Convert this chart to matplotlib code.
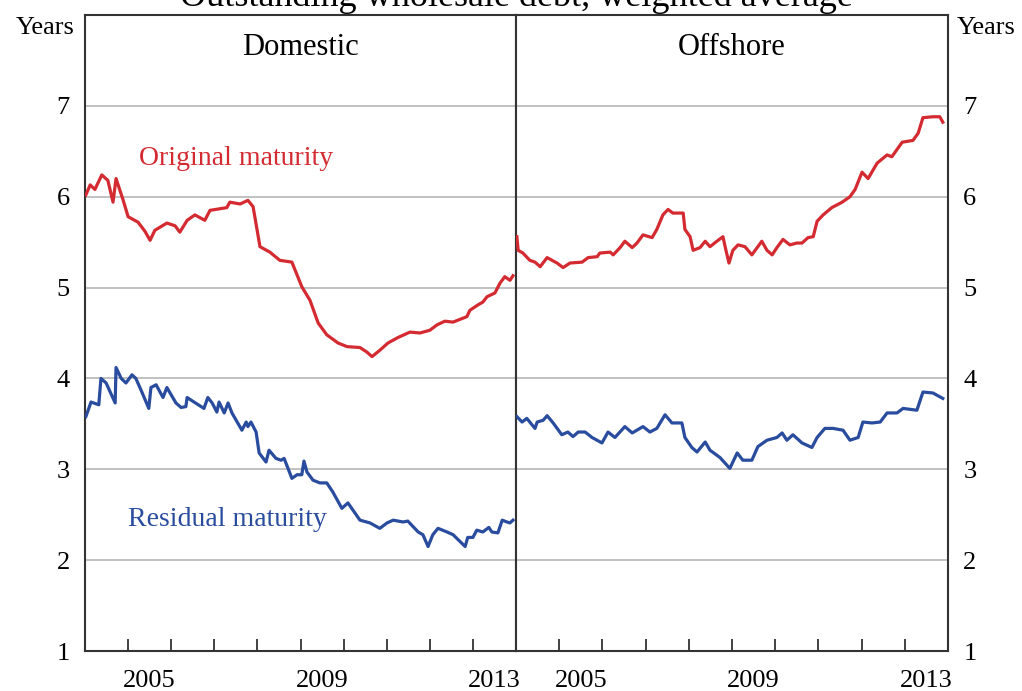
import matplotlib
matplotlib.use("Agg")
import matplotlib.pyplot as plt

plt.rcParams['font.family'] = ['Liberation Serif', 'DejaVu Serif']

RED = '#d42a31'
BLUE = '#2a4c9e'
GRID = '#bcbcbc'

# domestic, original maturity (decimal year, years)
dom_orig_t = [2004.02, 2004.12, 2004.23, 2004.39, 2004.53, 2004.65, 2004.72, 2004.88, 2005.0, 2005.23,
              2005.39, 2005.51, 2005.62, 2005.9, 2006.09, 2006.2, 2006.37, 2006.55, 2006.78, 2006.9,
              2007.29, 2007.36, 2007.6, 2007.78, 2007.9, 2008.06, 2008.29, 2008.52, 2008.8, 2009.03,
              2009.22, 2009.41, 2009.61, 2009.87, 2010.08, 2010.38, 2010.54, 2010.66, 2010.84, 2011.03,
              2011.26, 2011.54, 2011.77, 2012.0, 2012.17, 2012.35, 2012.54, 2012.86, 2012.93, 2013.12,
              2013.23, 2013.33, 2013.51, 2013.63, 2013.74, 2013.86, 2013.93]
dom_orig_v = [6.02, 6.13, 6.08, 6.24, 6.18, 5.94, 6.2, 5.97, 5.78, 5.72,
              5.62, 5.52, 5.63, 5.71, 5.68, 5.61, 5.74, 5.8, 5.74, 5.85,
              5.88, 5.94, 5.92, 5.96, 5.89, 5.45, 5.39, 5.3, 5.28, 5.01,
              4.86, 4.61, 4.48, 4.39, 4.35, 4.34, 4.29, 4.24, 4.31, 4.39,
              4.45, 4.51, 4.5, 4.53, 4.59, 4.63, 4.62, 4.68, 4.75, 4.81,
              4.84, 4.9, 4.94, 5.05, 5.12, 5.08, 5.13]

# domestic, residual maturity
dom_res_t = [2004.02, 2004.14, 2004.32, 2004.37, 2004.49, 2004.7, 2004.72, 2004.84, 2004.95, 2005.09,
             2005.18, 2005.32, 2005.48, 2005.53, 2005.65, 2005.81, 2005.9, 2006.11, 2006.23, 2006.34,
             2006.37, 2006.53, 2006.76, 2006.85, 2006.95, 2007.06, 2007.11, 2007.23, 2007.32, 2007.41,
             2007.64, 2007.74, 2007.78, 2007.85, 2007.97, 2008.04, 2008.2, 2008.27, 2008.43, 2008.55,
             2008.62, 2008.8, 2008.92, 2009.03, 2009.08, 2009.15, 2009.29, 2009.45, 2009.61, 2009.75,
             2009.96, 2010.1, 2010.38, 2010.61, 2010.84, 2011.01, 2011.15, 2011.38, 2011.49, 2011.73,
             2011.84, 2011.96, 2012.07, 2012.19, 2012.4, 2012.54, 2012.82, 2012.88, 2013.0, 2013.09,
             2013.23, 2013.37, 2013.44, 2013.58, 2013.68, 2013.79, 2013.86, 2013.93]
dom_res_v = [3.58, 3.74, 3.71, 4.0, 3.95, 3.73, 4.12, 4.0, 3.95, 4.04,
             4.0, 3.85, 3.67, 3.9, 3.93, 3.79, 3.9, 3.73, 3.68, 3.69,
             3.79, 3.74, 3.67, 3.79, 3.73, 3.63, 3.74, 3.62, 3.73, 3.62,
             3.43, 3.52, 3.47, 3.52, 3.41, 3.18, 3.08, 3.21, 3.12, 3.1,
             3.12, 2.9, 2.94, 2.94, 3.09, 2.97, 2.88, 2.85, 2.85, 2.75,
             2.57, 2.63, 2.44, 2.41, 2.35, 2.41, 2.44, 2.42, 2.43, 2.31,
             2.28, 2.15, 2.28, 2.35, 2.31, 2.28, 2.15, 2.25, 2.25, 2.33,
             2.31, 2.36, 2.31, 2.3, 2.44, 2.42, 2.41, 2.44]

# offshore, original maturity
off_orig_t = [2004.02, 2004.05, 2004.16, 2004.32, 2004.44, 2004.56, 2004.72, 2004.95, 2005.09, 2005.25,
              2005.53, 2005.67, 2005.88, 2005.94, 2006.18, 2006.25, 2006.41, 2006.52, 2006.69, 2006.8,
              2006.94, 2007.15, 2007.26, 2007.4, 2007.52, 2007.63, 2007.87, 2007.91, 2008.03, 2008.1,
              2008.26, 2008.38, 2008.49, 2008.65, 2008.79, 2008.86, 2008.93, 2009.02, 2009.14, 2009.3,
              2009.46, 2009.69, 2009.81, 2009.93, 2010.04, 2010.18, 2010.34, 2010.5, 2010.62, 2010.76,
              2010.88, 2010.97, 2011.11, 2011.31, 2011.55, 2011.73, 2011.85, 2012.01, 2012.15, 2012.36,
              2012.59, 2012.7, 2012.94, 2013.19, 2013.31, 2013.42, 2013.65, 2013.81, 2013.88]
off_orig_v = [5.56, 5.41, 5.38, 5.3, 5.28, 5.23, 5.33, 5.27, 5.22, 5.27,
              5.28, 5.33, 5.34, 5.38, 5.39, 5.36, 5.44, 5.51, 5.44, 5.49,
              5.58, 5.55, 5.64, 5.8, 5.86, 5.82, 5.82, 5.64, 5.56, 5.41,
              5.44, 5.51, 5.45, 5.51, 5.56, 5.41, 5.27, 5.41, 5.47, 5.45,
              5.36, 5.51, 5.41, 5.36, 5.44, 5.53, 5.47, 5.49, 5.49, 5.55,
              5.56, 5.73, 5.8, 5.88, 5.94, 6.0, 6.08, 6.27, 6.2, 6.37,
              6.46, 6.44, 6.6, 6.62, 6.7, 6.87, 6.88, 6.88, 6.82]

# offshore, residual maturity
off_res_t = [2004.02, 2004.14, 2004.25, 2004.44, 2004.49, 2004.63, 2004.72, 2004.86, 2005.06, 2005.2,
             2005.32, 2005.44, 2005.6, 2005.76, 2005.99, 2006.13, 2006.29, 2006.52, 2006.69, 2006.94,
             2007.1, 2007.26, 2007.45, 2007.61, 2007.84, 2007.91, 2008.07, 2008.19, 2008.38, 2008.49,
             2008.72, 2008.95, 2009.12, 2009.25, 2009.46, 2009.6, 2009.81, 2010.04, 2010.16, 2010.27,
             2010.41, 2010.62, 2010.85, 2010.97, 2011.15, 2011.34, 2011.57, 2011.73, 2011.92, 2012.03,
             2012.24, 2012.43, 2012.59, 2012.82, 2012.96, 2013.28, 2013.42, 2013.65, 2013.88]
off_res_v = [3.58, 3.52, 3.56, 3.45, 3.52, 3.54, 3.59, 3.51, 3.38, 3.41,
             3.36, 3.41, 3.41, 3.35, 3.29, 3.41, 3.35, 3.47, 3.4, 3.47,
             3.41, 3.45, 3.6, 3.51, 3.51, 3.35, 3.24, 3.19, 3.3, 3.21,
             3.13, 3.01, 3.18, 3.1, 3.1, 3.25, 3.32, 3.35, 3.4, 3.32,
             3.38, 3.29, 3.24, 3.35, 3.45, 3.45, 3.43, 3.32, 3.35, 3.52,
             3.51, 3.52, 3.62, 3.62, 3.67, 3.65, 3.85, 3.84, 3.78]

panel_titles = ['Domestic', 'Offshore']
year_ticks = [2005, 2006, 2007, 2008, 2009, 2010, 2011, 2012, 2013]
year_labels = ['2005', '2009', '2013']
y_ticks = [1, 2, 3, 4, 5, 6, 7]

fig = plt.figure(figsize=(10.22, 6.91), dpi=100)
ax_l = fig.add_axes([85 / 1022, 1 - 651 / 691, 431 / 1022, 636 / 691])
ax_r = fig.add_axes([516 / 1022, 1 - 651 / 691, 432 / 1022, 636 / 691])

series = [(ax_l, dom_orig_t, dom_orig_v, dom_res_t, dom_res_v),
          (ax_r, off_orig_t, off_orig_v, off_res_t, off_res_v)]

for i, (ax, ot, ov, rt, rv) in enumerate(series):
    ax.set_xlim(2004, 2014)
    ax.set_ylim(1, 8)
    for y in y_ticks[1:]:
        ax.axhline(y, color=GRID, lw=1.3, zorder=1)
    ax.plot(ot, ov, color=RED, lw=2.3, zorder=3, solid_joinstyle='round')
    ax.plot(rt, rv, color=BLUE, lw=2.3, zorder=3, solid_joinstyle='round')

    ax.set_xticks(year_ticks)
    ax.set_xticklabels([])
    ax.set_xticks([int(l) + 0.5 for l in year_labels], minor=True)
    ax.set_xticklabels(year_labels, minor=True)
    ax.tick_params(axis='x', which='major', direction='in', length=9, width=1.3, color='#333333')
    ax.tick_params(axis='x', which='minor', length=0, pad=14, labelsize=19)

    ax.set_yticks(y_ticks)
    if i == 0:
        ax.tick_params(axis='y', length=0, pad=11, labelsize=19, left=True, labelleft=True)
    else:
        ax.tick_params(axis='y', length=0, pad=11, labelsize=19, left=False, labelleft=False,
                       right=True, labelright=True)

    for s in ax.spines.values():
        s.set_linewidth(1.5)
        s.set_color('#333333')

    ax.text(0.5, 0.972, panel_titles[i], transform=ax.transAxes, ha='center', va='top', fontsize=22)

ax_l.text(2007.5, 6.42, 'Original maturity', color=RED, fontsize=20, ha='center', va='center')
ax_l.text(2007.3, 2.45, 'Residual maturity', color=BLUE, fontsize=20, ha='center', va='center')

fig.text(75 / 1022, 1 - 28 / 691, 'Years', ha='right', va='center', fontsize=19)
fig.text(957 / 1022, 1 - 28 / 691, 'Years', ha='left', va='center', fontsize=19)
fig.text(516 / 1022, 1 - 6 / 691, 'Outstanding wholesale debt, weighted average',
         ha='center', va='baseline', fontsize=26)

fig.savefig('out.png', dpi=100)
